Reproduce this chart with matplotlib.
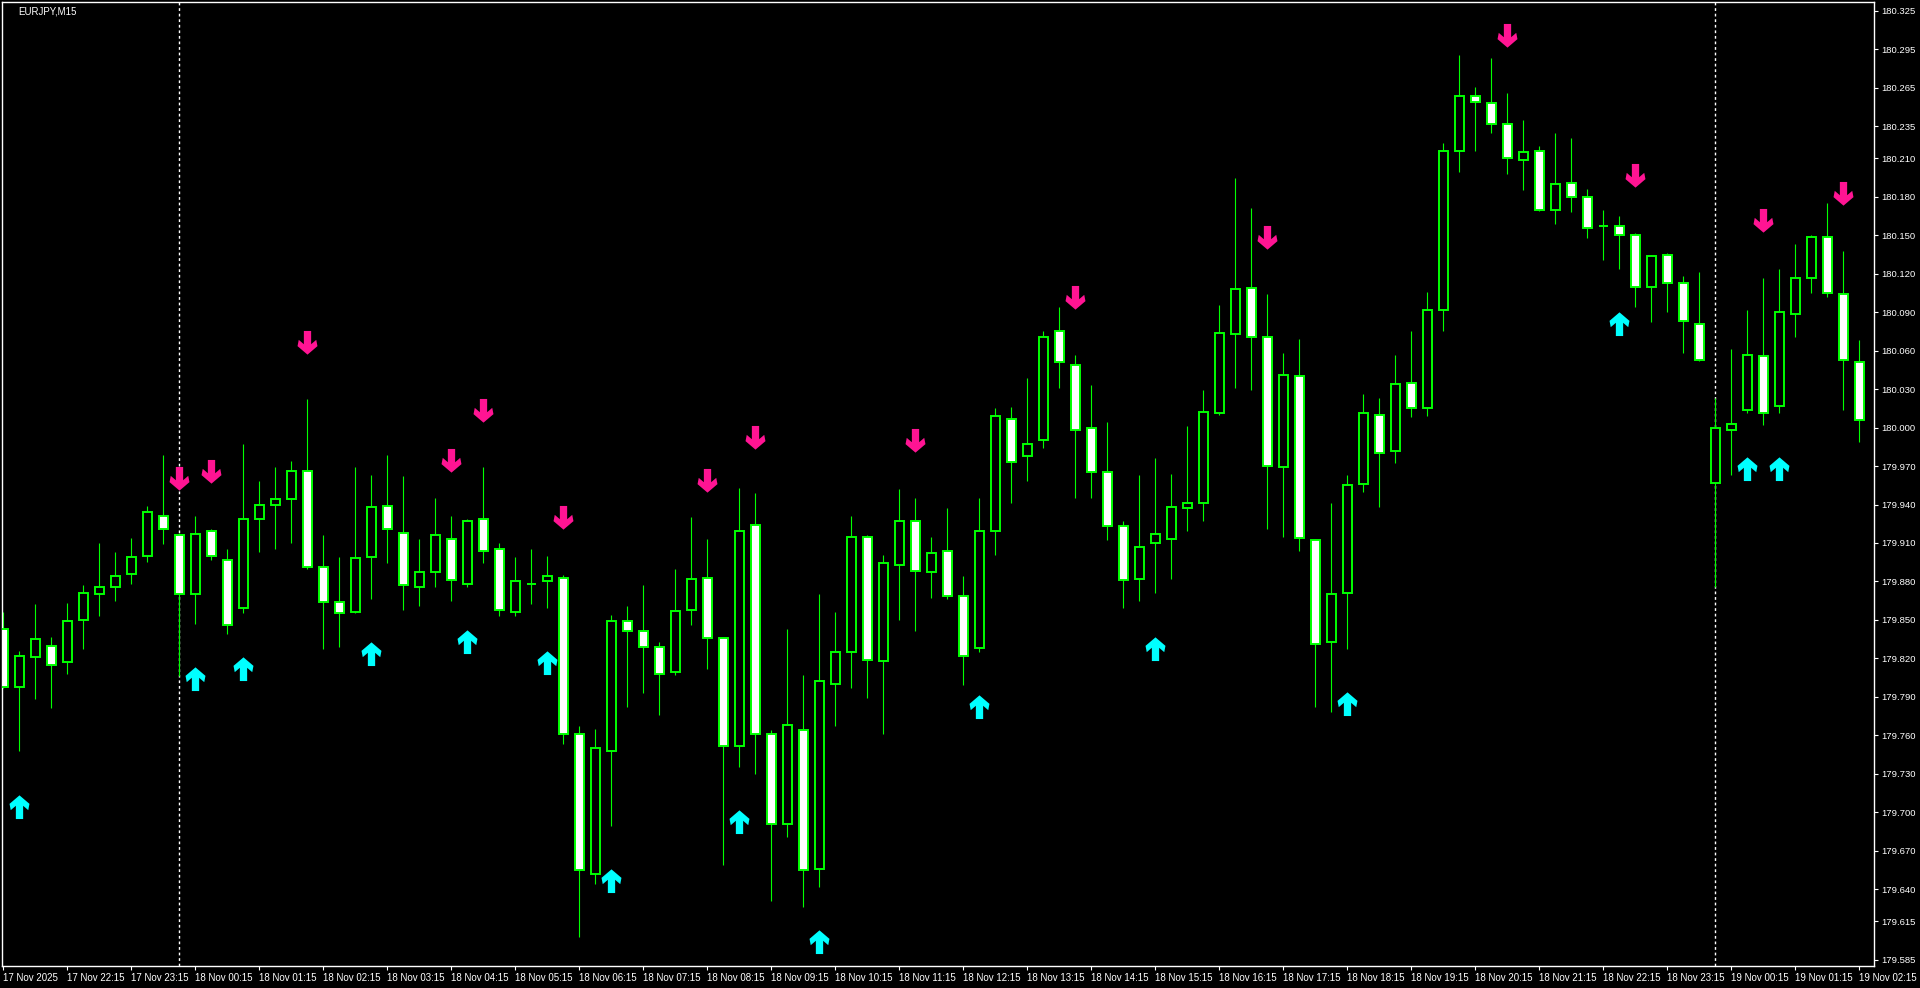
import numpy as np
import matplotlib.pyplot as plt
from matplotlib.path import Path

plt.rcParams['font.family'] = ['Liberation Sans', 'DejaVu Sans']

# EURJPY M15, bars 17 Nov 21:15 .. 19 Nov 02:15
opens = [179.843, 179.798, 179.821, 179.830, 179.817, 179.850, 179.870, 179.876, 179.886, 179.900,
         179.931, 179.916, 179.870, 179.919, 179.897, 179.859, 179.929, 179.940, 179.944, 179.966,
         179.891, 179.864, 179.856, 179.899, 179.939, 179.918, 179.876, 179.887, 179.913, 179.878,
         179.929, 179.905, 179.856, 179.878, 179.880, 179.883, 179.761, 179.652, 179.748, 179.849,
         179.841, 179.829, 179.809, 179.858, 179.883, 179.836, 179.752, 179.924, 179.761, 179.691,
         179.764, 179.656, 179.800, 179.825, 179.915, 179.818, 179.893, 179.927, 179.887, 179.904,
         179.869, 179.828, 179.919, 180.007, 179.978, 179.990, 180.075, 180.049, 180.000, 179.965,
         179.923, 179.882, 179.910, 179.913, 179.937, 179.941, 180.011, 180.073, 180.109, 180.071,
         179.969, 180.040, 179.912, 179.833, 179.871, 179.956, 180.010, 179.982, 180.035, 180.015,
         180.092, 180.216, 180.259, 180.253, 180.237, 180.209, 180.216, 180.170, 180.191, 180.180,
         180.157, 180.157, 180.150, 180.110, 180.135, 180.113, 180.081, 179.957, 179.998, 180.014,
         180.056, 180.017, 180.089, 180.117, 180.149, 180.104, 180.051]
highs = [179.856, 179.826, 179.862, 179.837, 179.863, 179.877, 179.910, 179.903, 179.914, 179.939,
         179.979, 179.918, 179.931, 179.921, 179.905, 179.987, 179.958, 179.969, 179.974, 180.022,
         179.916, 179.899, 179.969, 179.963, 179.979, 179.962, 179.913, 179.945, 179.931, 179.929,
         179.969, 179.910, 179.899, 179.905, 179.900, 179.885, 179.767, 179.765, 179.854, 179.861,
         179.877, 179.833, 179.890, 179.930, 179.913, 179.837, 179.953, 179.949, 179.764, 179.843,
         179.807, 179.870, 179.856, 179.931, 179.916, 179.901, 179.952, 179.945, 179.915, 179.937,
         179.884, 179.945, 180.015, 180.016, 180.039, 180.075, 180.094, 180.057, 180.033, 180.004,
         179.927, 179.963, 179.976, 179.964, 180.001, 180.029, 180.096, 180.195, 180.171, 180.104,
         180.058, 180.069, 179.913, 179.941, 179.963, 180.026, 180.023, 180.057, 180.075, 180.106,
         180.222, 180.291, 180.266, 180.288, 180.261, 180.240, 180.220, 180.230, 180.226, 180.186,
         180.170, 180.165, 180.152, 180.135, 180.136, 180.118, 180.121, 180.023, 180.061, 180.092,
         180.117, 180.124, 180.143, 180.150, 180.175, 180.138, 180.068]
lows = [179.797, 179.748, 179.788, 179.781, 179.808, 179.827, 179.853, 179.865, 179.878, 179.895,
        179.909, 179.806, 179.847, 179.897, 179.839, 179.855, 179.903, 179.905, 179.910, 179.890,
        179.827, 179.829, 179.855, 179.866, 179.894, 179.858, 179.861, 179.876, 179.865, 179.876,
        179.894, 179.853, 179.853, 179.862, 179.859, 179.753, 179.603, 179.644, 179.689, 179.782,
        179.793, 179.776, 179.807, 179.846, 179.812, 179.659, 179.735, 179.730, 179.631, 179.681,
        179.626, 179.642, 179.767, 179.797, 179.789, 179.761, 179.850, 179.841, 179.867, 179.866,
        179.799, 179.825, 179.901, 179.941, 179.958, 179.984, 180.031, 179.945, 179.945, 179.912,
        179.859, 179.865, 179.871, 179.882, 179.919, 179.927, 180.010, 180.031, 180.029, 179.921,
        179.915, 179.904, 179.782, 179.778, 179.827, 179.950, 179.938, 179.972, 180.008, 180.009,
        180.075, 180.199, 180.216, 180.230, 180.198, 180.185, 180.169, 180.159, 180.168, 180.148,
        180.131, 180.124, 180.094, 180.082, 180.090, 180.058, 180.052, 179.876, 179.963, 180.011,
        180.002, 180.011, 180.071, 180.105, 180.102, 180.014, 179.989]
closes = [179.798, 179.822, 179.835, 179.815, 179.849, 179.871, 179.876, 179.884, 179.899, 179.934,
          179.921, 179.870, 179.917, 179.900, 179.846, 179.929, 179.940, 179.944, 179.966, 179.891,
          179.864, 179.855, 179.898, 179.938, 179.921, 179.877, 179.887, 179.916, 179.881, 179.927,
          179.904, 179.858, 179.880, 179.878, 179.884, 179.761, 179.655, 179.750, 179.849, 179.841,
          179.829, 179.808, 179.857, 179.882, 179.836, 179.752, 179.919, 179.761, 179.691, 179.768,
          179.655, 179.802, 179.825, 179.915, 179.819, 179.894, 179.927, 179.888, 179.902, 179.869,
          179.822, 179.919, 180.009, 179.973, 179.987, 180.071, 180.051, 179.998, 179.965, 179.923,
          179.881, 179.907, 179.917, 179.938, 179.941, 180.012, 180.074, 180.108, 180.071, 179.970,
          180.041, 179.914, 179.831, 179.870, 179.955, 180.011, 179.980, 180.034, 180.015, 180.092,
          180.216, 180.259, 180.254, 180.237, 180.210, 180.215, 180.170, 180.190, 180.180, 180.156,
          180.157, 180.150, 180.110, 180.134, 180.113, 180.083, 180.053, 180.000, 180.003, 180.057,
          180.011, 180.090, 180.117, 180.149, 180.105, 180.053, 180.006]

# signal arrows: bar index and price level
buy_bars = [1, 12, 15, 23, 29, 34, 38, 46, 51, 61, 72, 84, 101, 109, 111]
buy_prices = [179.704, 179.804, 179.812, 179.823, 179.833, 179.816, 179.646, 179.692,
              179.599, 179.782, 179.827, 179.784, 180.081, 179.968, 179.968]
sell_bars = [11, 13, 19, 28, 30, 35, 44, 47, 57, 67, 79, 94, 102, 110, 115]
sell_prices = [179.961, 179.966, 180.067, 179.975, 180.014, 179.930, 179.959, 179.993,
               179.990, 180.102, 180.149, 180.306, 180.197, 180.162, 180.183]

period_sep = [11, 107]  # day separators

price_ticks = [180.325, 180.295, 180.265, 180.235, 180.210, 180.180, 180.150, 180.120, 180.090,
               180.060, 180.030, 180.000, 179.970, 179.940, 179.910, 179.880, 179.850, 179.820,
               179.790, 179.760, 179.730, 179.700, 179.670, 179.640, 179.615, 179.585]
time_labels = ['17 Nov 2025', '17 Nov 22:15', '17 Nov 23:15', '18 Nov 00:15', '18 Nov 01:15',
               '18 Nov 02:15', '18 Nov 03:15', '18 Nov 04:15', '18 Nov 05:15', '18 Nov 06:15',
               '18 Nov 07:15', '18 Nov 08:15', '18 Nov 09:15', '18 Nov 10:15', '18 Nov 11:15',
               '18 Nov 12:15', '18 Nov 13:15', '18 Nov 14:15', '18 Nov 15:15', '18 Nov 16:15',
               '18 Nov 17:15', '18 Nov 18:15', '18 Nov 19:15', '18 Nov 20:15', '18 Nov 21:15',
               '18 Nov 22:15', '18 Nov 23:15', '19 Nov 00:15', '19 Nov 01:15', '19 Nov 02:15']

W, H = 1920, 988
fig = plt.figure(figsize=(W / 100, H / 100), dpi=100, facecolor='black')
ax = fig.add_axes([2 / W, 1 - 966 / H, 1872 / W, 964 / H], facecolor='black')

o = np.array(opens)
c = np.array(closes)
x = np.arange(len(o))

ax.vlines(x, lows, highs, color='#00FF00', lw=0.8, zorder=2)
fill = np.where(c < o, 'white', 'black')
ax.bar(x, np.abs(c - o), bottom=np.minimum(o, c), width=0.56, color=fill,
       edgecolor='#00FF00', linewidth=1.4, zorder=3)

for s in period_sep:
    ax.axvline(s, color='white', lw=1, linestyle=(0, (2, 2)), zorder=1)

# thick chevron arrow (wingdings style)
up = [(0, 1), (0.82, 0.30), (0.72, -0.22), (0.30, 0.14), (0.30, -0.95),
      (-0.30, -0.95), (-0.30, 0.14), (-0.72, -0.22), (-0.82, 0.30), (0, 1)]
up_arrow = Path(up, closed=True)
down_arrow = Path([(px, -py) for px, py in up], closed=True)
ax.plot(buy_bars, buy_prices, ls='none', marker=up_arrow, ms=17.5, mew=0,
        color='#00FFFF', zorder=4)
ax.plot(sell_bars, sell_prices, ls='none', marker=down_arrow, ms=17.5, mew=0,
        color='#FF1493', zorder=4)

ax.set_xlim(-0.08, 116.92)
ax.set_ylim(179.580, 180.332)

ax.yaxis.tick_right()
ax.set_yticks(price_ticks)
ax.set_yticklabels([f'{p:.3f}' for p in price_ticks])
ax.set_xticks(np.arange(0, len(o), 4))
ax.set_xticklabels(time_labels)
for lab in ax.get_xticklabels():
    lab.set_horizontalalignment('left')
ax.tick_params(axis='y', colors='white', direction='out', length=3, width=0.8, pad=2, labelsize=6.8)
ax.tick_params(axis='x', colors='white', direction='out', length=3, width=0.8, pad=2, labelsize=7)
for sp in ax.spines.values():
    sp.set_color('white')
    sp.set_linewidth(1)

fig.text(18 / W, 1 - 11 / H, 'EURJPY,M15', color='white', fontsize=7, va='center')

fig.savefig('out.png', dpi=100, facecolor='black')
